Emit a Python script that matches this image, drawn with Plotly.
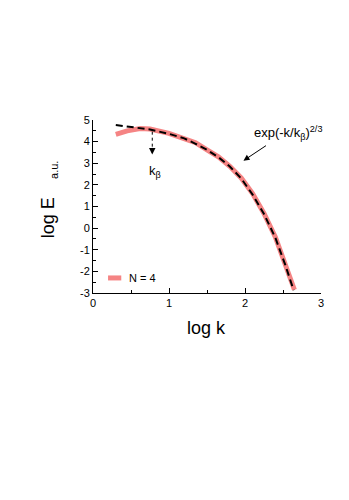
"""Spectrum log E vs log k with stretched-exponential fit."""
import plotly.graph_objects as go

# ── data ─────────────────────────────────────────────────────────────────────
N4_LOGK = [0.30, 0.45, 0.62, 0.75, 1.00, 1.20, 1.35, 1.50, 1.65, 1.80,
           1.95, 2.10, 2.25, 2.40, 2.53, 2.65]
N4_LOGE = [4.34, 4.50, 4.61, 4.58, 4.38, 4.16, 3.95, 3.62, 3.30, 2.86,
           2.32, 1.60, 0.68, -0.42, -1.68, -2.85]

FIT_LOGK = [0.30, 0.50, 0.75, 1.00, 1.20, 1.35, 1.50, 1.65, 1.80, 1.95,
            2.10, 2.25, 2.40, 2.53, 2.64]
FIT_LOGE = [4.77, 4.69, 4.56, 4.36, 4.15, 3.90, 3.62, 3.28, 2.85, 2.30,
            1.55, 0.65, -0.45, -1.70, -2.87]

K_BETA = 0.78          # log k position of the k_beta marker
X_TICKS = [0, 1, 2, 3]
Y_TICKS = [-3, -2, -1, 0, 1, 2, 3, 4, 5]
Y_TICK_LABELS = ['-3', '-2', '-1', '0', '1', '2', '3', '4', '5']  # plain hyphens

FONT = 'Liberation Sans, Arial, sans-serif'
PINK = '#f58484'

fig = go.Figure()

fig.add_trace(go.Scatter(
    x=N4_LOGK, y=N4_LOGE, mode='lines',
    line=dict(color=PINK, width=5), showlegend=False, hoverinfo='skip',
))
fig.add_trace(go.Scatter(
    x=FIT_LOGK, y=FIT_LOGE, mode='lines',
    line=dict(color='black', width=2, dash='7px,4px'),
    showlegend=False, hoverinfo='skip',
))

# k_beta dotted marker
fig.add_shape(type='line', x0=K_BETA, x1=K_BETA, y0=4.46, y1=3.5,
              line=dict(color='black', width=1, dash='dot'))
fig.add_annotation(x=K_BETA, y=3.41, ax=0, ay=-8, axref='pixel', ayref='pixel',
                   text='', showarrow=True, arrowhead=2, arrowsize=1.3,
                   arrowwidth=1, arrowcolor='black')
fig.add_annotation(x=0.81, y=2.62, text='k<sub>β</sub>', showarrow=False,
                   xanchor='center', yanchor='middle',
                   font=dict(size=13, color='black', family=FONT))

# fit label + arrow
fig.add_annotation(x=2.57, y=4.42, text='exp(-k/k<sub>β</sub>)<sup>2/3</sup>',
                   showarrow=False, xanchor='center', yanchor='middle',
                   font=dict(size=13, color='black', family=FONT))
fig.add_annotation(x=1.98, y=3.12, ax=24, ay=-16, text='', showarrow=True,
                   arrowhead=2, arrowsize=1.2, arrowwidth=1, arrowcolor='black')

# legend (drawn by hand to keep the short swatch)
fig.add_shape(type='line', xref='paper', yref='paper', x0=0.066, x1=0.124,
              y0=0.087, y1=0.087, line=dict(color=PINK, width=5))
fig.add_annotation(xref='paper', yref='paper', x=0.148, y=0.087,
                   xanchor='left', yanchor='middle',
                   text='N = 4', showarrow=False,
                   font=dict(size=11, color='black', family=FONT))

# axis titles
fig.add_annotation(xref='paper', yref='paper', x=0.499, y=-0.20,
                   xanchor='center', yanchor='middle',
                   text='log k', showarrow=False,
                   font=dict(size=18, color='black', family=FONT))
fig.add_annotation(xref='paper', yref='paper', x=-0.199, y=0.435,
                   xanchor='center', yanchor='middle',
                   text='log E', textangle=-90, showarrow=False,
                   font=dict(size=18, color='black', family=FONT))
fig.add_annotation(xref='paper', yref='paper', x=-0.172, y=0.71,
                   xanchor='center', yanchor='middle',
                   text='a.u.', textangle=-90, showarrow=False,
                   font=dict(size=11, color='black', family=FONT))

axis_common = dict(
    showgrid=False, zeroline=False, showline=True, linecolor='black',
    linewidth=1, ticks='inside', ticklen=5, tickwidth=1, tickcolor='black',
    tickfont=dict(size=11, color='black', family=FONT),
)
fig.update_xaxes(range=[0, 3], tickvals=X_TICKS,
                 minor=dict(ticks='inside', dtick=0.5, ticklen=3, tickcolor='black'),
                 **axis_common)
fig.update_yaxes(range=[-3, 5], tickvals=Y_TICKS, ticktext=Y_TICK_LABELS,
                 minor=dict(ticks='inside', dtick=0.5, ticklen=3, tickcolor='black'),
                 **axis_common)

# the page body keeps its 8px margin, so the figure is sized to fit inside it
fig.update_layout(
    width=333, height=484,
    margin=dict(l=85, r=20, t=112, b=199),
    paper_bgcolor='white', plot_bgcolor='white',
    font=dict(family=FONT, color='black'),
    showlegend=False,
)

fig.write_html("out.html")
